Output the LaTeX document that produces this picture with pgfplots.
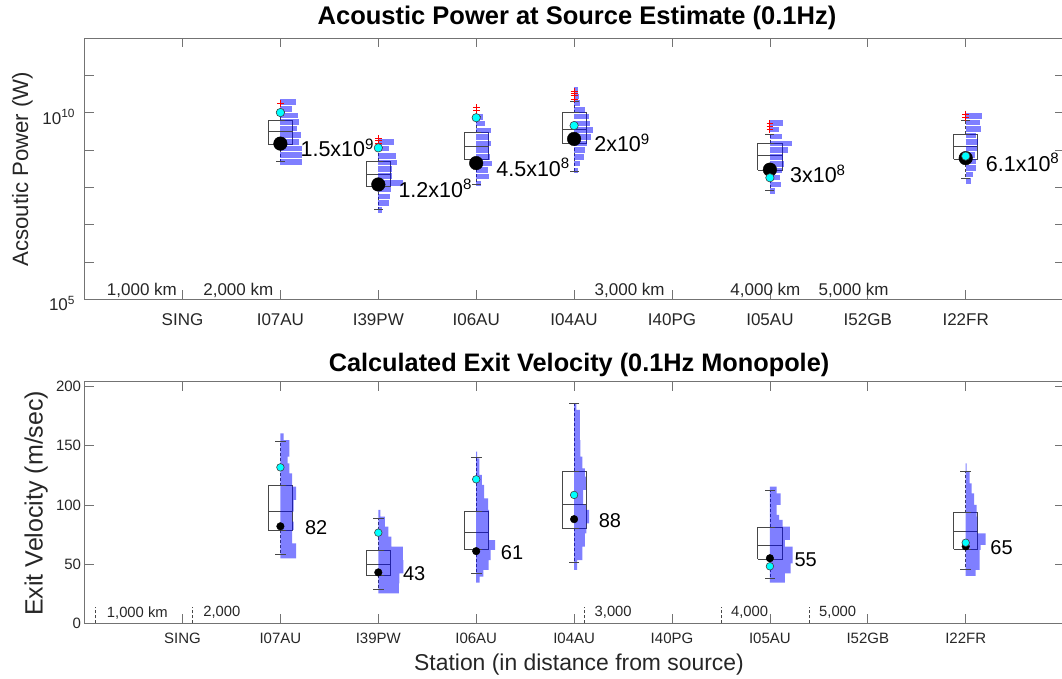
\documentclass[border=0pt]{standalone}
\usepackage{fontspec}
\setmainfont{Liberation Sans}
\usepackage{pgfplots}
\pgfplotsset{compat=1.18}
\newcommand{\fs}[1]{\fontsize{#1}{#1}\selectfont}
\definecolor{axgray}{gray}{0.45}
\definecolor{boxc}{gray}{0.28}
\definecolor{histc}{rgb}{0,0,1}
\definecolor{txt}{gray}{0.15}
\definecolor{cy}{rgb}{0,1,1}
\definecolor{rd}{rgb}{1,0,0}
\pgfplotsset{
  boxst/.style={draw=boxc, line width=0.8pt, mark=none},
  whT/.style={draw=boxc, line width=0.8pt, dash pattern=on 3pt off 2pt, mark=-, mark size=4.5pt, mark options={solid}},
  whB/.style={draw=boxc, line width=0.8pt, dash pattern=on 3pt off 2pt, mark=-, mark size=5.3pt, mark options={solid}},
  thist/.style={draw=histc, draw opacity=0.5, line width=5.6pt, mark=none, unbounded coords=jump},
  bhist/.style={fill=histc, fill opacity=0.5, draw=none, mark=none},
}
% center, left, right, lower whisker, q1, median, q3, upper whisker, whisker style
\newcommand{\bwp}[9]{%
  \addplot[boxst] coordinates {(#2,#5) (#3,#5) (#3,#7) (#2,#7) (#2,#5)};
  \addplot[boxst] coordinates {(#2,#6) (#3,#6)};
  \addplot[#9] coordinates {(#1,#7) (#1,#8)};
  \addplot[#9] coordinates {(#1,#5) (#1,#4)};
}
\begin{document}
\begin{tikzpicture}
\useasboundingbox (0,0) rectangle (1062pt,678pt);
% ---------------- TOP PANEL ----------------
\begin{axis}[
  at={(84.6pt,378.7pt)}, anchor=south west, scale only axis,
  width=979pt, height=261pt,
  xmin=0, xmax=10, ymode=log, ymin=1e5, ymax=1e12,
  xtick={1,...,9},
  xticklabels={SING,I07AU,I39PW,I06AU,I04AU,I40PG,I05AU,I52GB,I22FR},
  ytick={1e5,1e6,1e7,1e8,1e9,1e10,1e11,1e12},
  yticklabels={10\textsuperscript{5},,,,,10\textsuperscript{10},,},
  minor y tick style={draw=none},
  tick align=inside, major tick length=9pt,
  axis line style={axgray, line width=0.8pt},
  tick style={axgray, line width=0.8pt},
  ticklabel style={font=\fs{17}, text=txt},
  xticklabel shift=11pt,
  yticklabel style={yshift=-4pt, xshift=-6pt},
  clip=false,
]
\bwp{2}{1.877}{2.123}{4.9e8}{1.45e9}{3.09e9}{6.31e9}{1.1e10}{whT}
\bwp{3}{2.877}{3.123}{2.63e7}{1.05e8}{2.29e8}{5.13e8}{1.2e9}{whT}
\bwp{4}{3.877}{4.123}{1.23e8}{5.75e8}{1.23e9}{2.95e9}{7.94e9}{whT}
\bwp{5}{4.877}{5.123}{2.63e8}{1.51e9}{3.63e9}{1.0e10}{2.04e10}{whT}
\bwp{7}{6.877}{7.123}{8.51e7}{2.88e8}{7.41e8}{1.51e9}{2.63e9}{whT}
\bwp{9}{8.877}{9.123}{1.74e8}{5.62e8}{1.29e9}{2.69e9}{6.17e9}{whT}
% histograms (I07AU)
\addplot[thist] coordinates {
 (2,1.95e10) (2.163,1.95e10) (2,nan)
 (2,1.29e10) (2.123,1.29e10) (2,nan)
 (2,8.51e9) (2.184,8.51e9) (2,nan)
 (2,5.62e9) (2.194,5.62e9) (2,nan)
 (2,3.80e9) (2.174,3.80e9) (2,nan)
 (2,2.51e9) (2.215,2.51e9) (2,nan)
 (2,1.66e9) (2.194,1.66e9) (2,nan)
 (2,1.10e9) (2.225,1.10e9) (2,nan)
 (2,7.41e8) (2.225,7.41e8) (2,nan)
 (2,4.90e8) (2.225,4.90e8)
};
% I39PW
\addplot[thist] coordinates {
 (3,1.66e9) (3.163,1.66e9) (3,nan)
 (3,1.10e9) (3.112,1.10e9) (3,nan)
 (3,7.08e8) (3.184,7.08e8) (3,nan)
 (3,4.68e8) (3.194,4.68e8) (3,nan)
 (3,3.09e8) (3.143,3.09e8) (3,nan)
 (3,2.04e8) (3.143,2.04e8) (3,nan)
 (3,1.32e8) (3.255,1.32e8) (3,nan)
 (3,8.71e7) (3.133,8.71e7) (3,nan)
 (3,5.75e7) (3.123,5.75e7) (3,nan)
 (3,3.80e7) (3.112,3.80e7) (3,nan)
 (3,2.45e7) (3.041,2.45e7)
};
% I06AU
\addplot[thist] coordinates {
 (4,7.76e9) (4.072,7.76e9) (4,nan)
 (4,5.13e9) (4.092,5.13e9) (4,nan)
 (4,3.39e9) (4.153,3.39e9) (4,nan)
 (4,2.29e9) (4.133,2.29e9) (4,nan)
 (4,1.51e9) (4.153,1.51e9) (4,nan)
 (4,1.00e9) (4.133,1.00e9) (4,nan)
 (4,6.61e8) (4.143,6.61e8) (4,nan)
 (4,4.37e8) (4.163,4.37e8) (4,nan)
 (4,2.95e8) (4.123,2.95e8) (4,nan)
 (4,1.95e8) (4.133,1.95e8) (4,nan)
 (4,1.29e8) (4.051,1.29e8)
};
% I04AU
\addplot[thist] coordinates {
 (5,4.17e10) (5.041,4.17e10) (5,nan)
 (5,2.75e10) (5.051,2.75e10) (5,nan)
 (5,1.82e10) (5.061,1.82e10) (5,nan)
 (5,1.20e10) (5.112,1.20e10) (5,nan)
 (5,7.94e9) (5.153,7.94e9) (5,nan)
 (5,5.25e9) (5.163,5.25e9) (5,nan)
 (5,3.47e9) (5.194,3.47e9) (5,nan)
 (5,2.29e9) (5.174,2.29e9) (5,nan)
 (5,1.51e9) (5.133,1.51e9) (5,nan)
 (5,1.00e9) (5.112,1.00e9) (5,nan)
 (5,6.61e8) (5.102,6.61e8) (5,nan)
 (5,4.37e8) (5.061,4.37e8) (5,nan)
 (5,2.88e8) (5.041,2.88e8)
};
% I05AU
\addplot[thist] coordinates {
 (7,5.37e9) (7.133,5.37e9) (7,nan)
 (7,3.55e9) (7.092,3.55e9) (7,nan)
 (7,2.34e9) (7.123,2.34e9) (7,nan)
 (7,1.51e9) (7.225,1.51e9) (7,nan)
 (7,1.00e9) (7.184,1.00e9) (7,nan)
 (7,6.61e8) (7.133,6.61e8) (7,nan)
 (7,4.27e8) (7.143,4.27e8) (7,nan)
 (7,2.82e8) (7.123,2.82e8) (7,nan)
 (7,1.86e8) (7.102,1.86e8) (7,nan)
 (7,1.20e8) (7.112,1.20e8) (7,nan)
 (7,7.94e7) (7.051,7.94e7)
};
% I22FR
\addplot[thist] coordinates {
 (9,8.13e9) (9.163,8.13e9) (9,nan)
 (9,5.50e9) (9.143,5.50e9) (9,nan)
 (9,3.72e9) (9.153,3.72e9) (9,nan)
 (9,2.45e9) (9.102,2.45e9) (9,nan)
 (9,1.66e9) (9.123,1.66e9) (9,nan)
 (9,1.10e9) (9.112,1.10e9) (9,nan)
 (9,7.41e8) (9.092,7.41e8) (9,nan)
 (9,5.01e8) (9.102,5.01e8) (9,nan)
 (9,3.31e8) (9.102,3.31e8) (9,nan)
 (9,2.24e8) (9.072,2.24e8) (9,nan)
 (9,1.51e8) (9.051,1.51e8)
};
% outliers
\addplot[only marks, mark=+, mark size=3.4pt, draw=rd, line width=0.9pt] coordinates {
 (2,1.82e10) (2,1.74e10)
 (3,2.04e9) (3,1.78e9) (3,1.55e9)
 (4,1.38e10) (4,1.15e10)
 (5,3.8e10) (5,3.3e10) (5,2.9e10) (5,2.34e10)
 (7,5.13e9) (7,4.37e9) (7,3.63e9)
 (9,9.33e9) (9,7.59e9)
};
% estimates
\addplot[only marks, mark=*, mark size=6.8pt, draw=black, fill=black] coordinates {
 (2,1.5e9) (3,1.2e8) (4,4.5e8) (5,2e9) (7,3e8) (9,6.1e8)
};
\addplot[only marks, mark=*, mark size=4.2pt, draw=black!75, fill=cy, line width=0.6pt] coordinates {
 (2,1.02e10) (3,1.15e9) (4,7.41e9) (5,4.57e9) (7,1.82e8) (9,6.92e8)
};
\begin{scope}[every node/.style={anchor=base west, inner sep=0pt, xshift=20pt, yshift=-13pt, font=\fs{21.5}, text=black}]
\node at (axis cs:2,1.5e9) {1.5x10\textsuperscript{9}};
\node at (axis cs:3,1.2e8) {1.2x10\textsuperscript{8}};
\node at (axis cs:4,4.5e8) {4.5x10\textsuperscript{8}};
\node at (axis cs:5,2e9) {2x10\textsuperscript{9}};
\node at (axis cs:7,3e8) {3x10\textsuperscript{8}};
\node at (axis cs:9,6.1e8) {6.1x10\textsuperscript{8}};
\end{scope}
\begin{scope}[every node/.style={anchor=west, inner sep=0pt, font=\fs{17}, text=txt}]
\node at (axis cs:0.226,1.78e5) {1,000 km};
\node at (axis cs:1.211,1.78e5) {2,000 km};
\node at (axis cs:5.208,1.78e5) {3,000 km};
\node at (axis cs:6.595,1.78e5) {4,000 km};
\node at (axis cs:7.496,1.78e5) {5,000 km};
\end{scope}
\end{axis}
% ---------------- BOTTOM PANEL ----------------
\begin{axis}[
  at={(84.6pt,54.7pt)}, anchor=south west, scale only axis,
  width=979pt, height=241.6pt,
  xmin=0, xmax=10, ymin=0, ymax=204.2,
  xtick={1,...,9},
  xticklabels={SING,I07AU,I39PW,I06AU,I04AU,I40PG,I05AU,I52GB,I22FR},
  ytick={0,50,100,150,200},
  /pgf/number format/assume math mode=true,
  tick align=inside, major tick length=9pt,
  axis line style={axgray, line width=0.8pt},
  tick style={axgray, line width=0.8pt},
  ticklabel style={font=\fs{15}, text=txt},
  xticklabel shift=6pt,
  clip=false,
]
\bwp{2}{1.877}{2.123}{58.6}{78.6}{94.9}{116.3}{154.1}{whB}
\bwp{3}{2.877}{3.123}{28.7}{40.6}{49.9}{62.0}{88.7}{whB}
\bwp{4}{3.877}{4.123}{42.3}{62.5}{76.9}{94.9}{140.3}{whB}
\bwp{5}{4.877}{5.123}{51.3}{80.5}{100.6}{128.8}{185.6}{whB}
\bwp{7}{6.877}{7.123}{38.2}{54.1}{66.0}{81.3}{112.1}{whB}
\bwp{9}{8.877}{9.123}{45.9}{62.8}{77.4}{93.5}{128.2}{whB}
% histograms
\addplot[bhist] coordinates {(2,54.9) (2.160,54.9) (2.160,67.6) (2.120,67.6) (2.120,78.9) (2.136,78.9) (2.136,86.0) (2.120,86.0) (2.120,94.4) (2.136,94.4) (2.136,104.3) (2.160,104.3) (2.160,115.5) (2.120,115.5) (2.120,126.8) (2.092,126.8) (2.092,135.2) (2.075,135.2) (2.075,140.8) (2.092,140.8) (2.092,154.9) (2.034,154.9) (2.034,160.6) (2,160.6)};
\addplot[bhist] coordinates {(3,25.4) (3.209,25.4) (3.209,33.8) (3.215,33.8) (3.215,42.3) (3.255,42.3) (3.255,53.5) (3.250,53.5) (3.250,64.8) (3.133,64.8) (3.133,73.2) (3.102,73.2) (3.102,81.7) (3.066,81.7) (3.066,90.1) (3.020,90.1) (3.020,95.8) (3,95.8)};
\addplot[bhist] coordinates {(4,34.4) (4.036,34.4) (4.036,39.4) (4.072,39.4) (4.072,45.1) (4.126,45.1) (4.126,53.5) (4.148,53.5) (4.148,62.0) (4.192,62.0) (4.192,70.4) (4.133,70.4) (4.133,95.8) (4.123,95.8) (4.123,105.6) (4.082,105.6) (4.082,116.9) (4.059,116.9) (4.059,125.4) (4.033,125.4) (4.033,139.5) (4.010,139.5) (4.010,145.1) (4,145.1)};
\addplot[bhist] coordinates {(5,45.1) (5.031,45.1) (5.031,53.5) (5.085,53.5) (5.085,64.8) (5.109,64.8) (5.109,76.1) (5.126,76.1) (5.126,84.5) (5.153,84.5) (5.153,95.8) (5.120,95.8) (5.120,100.0) (5.092,100.0) (5.092,112.7) (5.120,112.7) (5.120,123.9) (5.109,123.9) (5.109,131.0) (5.085,131.0) (5.085,140.8) (5.064,140.8) (5.064,154.9) (5.058,154.9) (5.058,180.3) (5.023,180.3) (5.023,186.0) (5,186.0)};
\addplot[bhist] coordinates {(7,34.4) (7.153,34.4) (7.153,42.3) (7.211,42.3) (7.211,50.7) (7.232,50.7) (7.232,64.8) (7.153,64.8) (7.153,70.5) (7.204,70.5) (7.204,81.7) (7.130,81.7) (7.130,87.4) (7.095,87.4) (7.095,91.6) (7.068,91.6) (7.068,100.0) (7.109,100.0) (7.109,109.9) (7.068,109.9) (7.068,115.5) (7,115.5)};
\addplot[bhist] coordinates {(9,40.0) (9.102,40.0) (9.102,45.1) (9.143,45.1) (9.143,62.0) (9.153,62.0) (9.153,66.2) (9.204,66.2) (9.204,76.1) (9.120,76.1) (9.120,90.2) (9.112,90.2) (9.112,100.0) (9.085,100.0) (9.085,109.9) (9.061,109.9) (9.061,118.3) (9.041,118.3) (9.041,128.2) (9.010,128.2) (9.010,135.2) (9,135.2)};
% distance markers
\addplot[draw=boxc, line width=0.7pt, dash pattern=on 3pt off 2pt, unbounded coords=jump] coordinates {
 (0.106,0) (0.106,13.5) (0.106,nan)
 (1.105,0) (1.105,13.5) (1.105,nan)
 (5.104,0) (5.104,13.5) (5.104,nan)
 (6.508,0) (6.508,13.5) (6.508,nan)
 (7.398,0) (7.398,13.5)
};
% estimates
\addplot[only marks, mark=*, mark size=3.8pt, draw=black, fill=black] coordinates {
 (2,82) (3,43) (4,61) (5,88) (7,55) (9,65)
};
\addplot[only marks, mark=*, mark size=3.8pt, draw=black!75, fill=cy, line width=0.6pt] coordinates {
 (2,131.8) (3,76.6) (4,121.7) (5,108.5) (7,48.2) (9,68.1)
};
\begin{scope}[every node/.style={anchor=base west, inner sep=0pt, xshift=24.5pt, yshift=-8pt, font=\fs{20}, text=black}]
\node at (axis cs:2,82) {82};
\node at (axis cs:3,43) {43};
\node at (axis cs:4,61) {61};
\node at (axis cs:5,88) {88};
\node at (axis cs:7,55) {55};
\node at (axis cs:9,65) {65};
\end{scope}
\begin{scope}[every node/.style={anchor=west, inner sep=0pt, font=\fs{14.8}, text=txt}]
\node at (axis cs:0.226,9) {1,000 km};
\node at (axis cs:1.211,9) {2,000};
\node at (axis cs:5.208,9) {3,000};
\node at (axis cs:6.602,9) {4,000};
\node at (axis cs:7.501,9) {5,000};
\end{scope}
\end{axis}
% titles and labels
\node[font=\bfseries\fs{25.5}] at (577pt,660pt) {Acoustic Power at Source Estimate (0.1Hz)};
\node[font=\bfseries\fs{25.3}] at (579pt,313pt) {Calculated Exit Velocity (0.1Hz Monopole)};
\node[font=\fs{22.2}, text=txt, rotate=90] at (22.4pt,508.8pt) {Acsoutic Power (W)};
\node[font=\fs{25}, text=txt, rotate=90] at (36.2pt,174.7pt) {Exit Velocity (m/sec)};
\node[font=\fs{22.9}, text=txt] at (579pt,13pt) {Station (in distance from source)};
\end{tikzpicture}
\end{document}
